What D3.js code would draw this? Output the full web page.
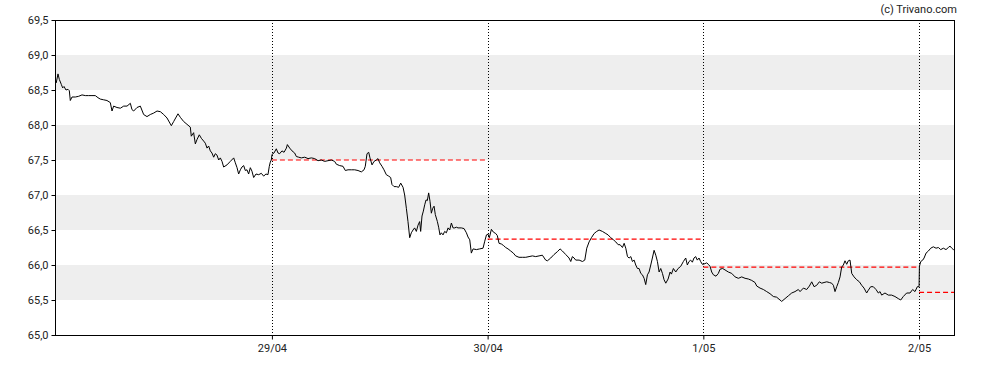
<!DOCTYPE html>
<html>
<head>
<meta charset="utf-8">
<script src="https://cdn.jsdelivr.net/npm/d3@7"></script>
<style>
  html, body { margin: 0; padding: 0; background: #fff; }
  svg { display: block; font-family: Roboto, "Liberation Sans", Arial, sans-serif; }
</style>
</head>
<body>
<svg id="chart" width="988" height="370"></svg>
<script>
// ---- data ----
const yTicks = [65.0, 65.5, 66.0, 66.5, 67.0, 67.5, 68.0, 68.5, 69.0, 69.5];
const grayBands = [[65.5, 66.0], [66.5, 67.0], [67.5, 68.0], [68.5, 69.0]];
const dayLabels = ["29/04", "30/04", "1/05", "2/05"];
const dayOffsets = [1, 2, 3, 4]; // days after 28/04

// intraday points: hours of day and prices, one pair of arrays per day
const hours28 = [0.00,0.20,0.35,0.57,0.72,0.87,1.09,1.31,1.46,1.57,1.76,2.13,2.50,2.87,3.24,3.61,3.98,4.35,4.65,4.91,5.28,5.65,6.02,6.21,6.39,6.76,7.14,7.51,7.88,8.25,8.43,8.62,8.99,9.36,9.73,10.10,10.47,10.84,11.22,11.59,11.96,12.33,12.81,13.07,13.55,13.81,14.18,14.55,14.92,15.03,15.29,15.48,15.66,15.92,16.15,16.41,16.59,16.78,16.96,17.15,17.33,17.52,17.70,17.89,18.08,18.26,18.45,18.63,19.00,19.37,19.75,19.93,20.12,20.30,20.49,20.67,20.86,21.04,21.23,21.41,21.60,21.78,21.97,22.23,22.53,22.82,23.08,23.34,23.56,23.71,23.82,23.93];
const values28 = [68.60,68.73,68.65,68.58,68.53,68.55,68.50,68.51,68.49,68.35,68.40,68.40,68.41,68.43,68.42,68.42,68.42,68.42,68.39,68.37,68.36,68.35,68.32,68.20,68.27,68.25,68.24,68.27,68.27,68.31,68.22,68.20,68.25,68.27,68.15,68.12,68.15,68.17,68.20,68.19,68.15,68.10,67.99,68.05,68.16,68.11,68.05,68.01,67.97,67.84,67.89,67.73,67.79,67.86,67.81,67.77,67.74,67.67,67.70,67.63,67.60,67.54,67.59,67.57,67.50,67.53,67.48,67.40,67.43,67.48,67.53,67.46,67.39,67.30,67.36,67.40,67.42,67.35,67.36,67.30,67.39,67.34,67.25,67.30,67.29,67.31,67.27,67.30,67.29,67.41,67.47,67.50];

const hours29 = [0.01,0.23,0.49,0.68,0.86,1.12,1.35,1.61,1.72,1.98,2.24,2.53,2.72,2.98,3.27,3.65,4.02,4.39,4.76,5.13,5.50,5.87,6.24,6.61,6.98,7.17,7.54,7.91,8.17,8.47,8.84,9.21,9.58,9.95,10.25,10.39,10.58,10.77,10.91,11.14,11.36,11.62,11.80,11.99,12.25,12.47,12.73,12.99,13.21,13.36,13.59,13.84,14.10,14.33,14.59,14.77,14.96,15.14,15.33,15.51,15.70,15.88,16.07,16.26,16.44,16.55,16.70,16.85,17.00,17.15,17.29,17.44,17.59,17.74,17.89,18.04,18.18,18.41,18.55,18.70,18.85,19.04,19.22,19.41,19.60,19.78,19.97,20.15,20.34,20.52,20.71,21.08,21.38,21.64,21.82,22.01,22.19,22.38,22.75,23.12,23.49,23.68,23.87];
const values29 = [67.58,67.60,67.66,67.60,67.59,67.63,67.61,67.67,67.72,67.67,67.63,67.60,67.55,67.54,67.53,67.54,67.52,67.53,67.52,67.49,67.50,67.48,67.49,67.50,67.48,67.44,67.42,67.41,67.35,67.36,67.36,67.36,67.35,67.33,67.36,67.41,67.59,67.61,67.53,67.43,67.48,67.50,67.52,67.46,67.41,67.36,67.29,67.27,67.25,67.15,67.12,67.12,67.11,67.17,67.11,67.00,66.81,66.62,66.39,66.46,66.50,66.53,66.48,66.57,66.62,66.48,66.70,66.77,66.86,66.93,66.92,67.03,66.91,66.74,66.81,66.84,66.72,66.62,66.54,66.43,66.46,66.43,66.48,66.46,66.53,66.50,66.60,66.53,66.53,66.54,66.53,66.53,66.52,66.46,66.40,66.36,66.17,66.23,66.22,66.23,66.24,66.34,66.43];

const hours30 = [0.04,0.19,0.42,0.64,0.90,1.08,1.27,1.53,1.75,2.01,2.27,2.57,2.86,3.12,3.49,3.87,4.24,4.61,4.98,5.35,5.72,6.09,6.46,6.65,7.02,7.39,7.76,8.06,8.32,8.69,9.06,9.25,9.43,9.62,9.80,10.18,10.55,10.81,11.03,11.29,11.55,11.85,12.14,12.40,12.77,13.15,13.40,13.70,14.00,14.26,14.52,14.74,15.00,15.19,15.37,15.56,15.74,15.93,16.11,16.30,16.48,16.67,16.85,17.04,17.22,17.41,17.59,17.78,17.96,18.15,18.33,18.52,18.71,18.89,19.08,19.26,19.45,19.63,19.82,20.08,20.30,20.45,20.67,20.93,21.19,21.48,21.78,22.04,22.22,22.41,22.59,22.78,22.96,23.15,23.33,23.52,23.70,23.89];
const values30 = [66.44,66.39,66.51,66.47,66.45,66.42,66.31,66.30,66.28,66.25,66.23,66.20,66.17,66.13,66.11,66.11,66.11,66.12,66.13,66.12,66.13,66.14,66.07,66.06,66.10,66.15,66.19,66.23,66.20,66.15,66.10,66.05,66.12,66.10,66.07,66.07,66.05,66.07,66.24,66.33,66.39,66.45,66.48,66.50,66.48,66.45,66.43,66.39,66.36,66.33,66.29,66.29,66.25,66.31,66.24,66.12,66.10,66.12,66.05,66.07,66.00,65.95,65.95,65.88,65.86,65.81,65.72,65.86,65.90,66.00,66.10,66.21,66.14,66.05,65.90,65.95,65.88,65.79,65.74,65.80,65.90,65.87,65.95,65.90,65.95,65.98,66.05,66.10,66.00,66.05,66.07,66.04,66.10,66.12,66.07,66.10,66.05,66.01];

const hours01 = [0.00,0.19,0.37,0.56,0.75,0.93,1.12,1.41,1.67,1.86,2.15,2.41,2.78,3.16,3.53,3.90,4.27,4.64,5.01,5.38,5.75,5.94,6.31,6.68,7.05,7.42,7.79,8.16,8.53,8.72,9.09,9.46,9.83,10.20,10.57,10.76,11.13,11.50,11.80,12.06,12.32,12.61,12.91,13.17,13.43,13.73,14.02,14.28,14.47,14.65,14.84,15.02,15.21,15.39,15.58,15.76,15.95,16.13,16.32,16.51,16.77,17.06,17.36,17.62,17.88,18.17,18.36,18.62,18.91,19.21,19.47,19.66,19.84,20.21,20.58,20.95,21.32,21.69,21.96,22.25,22.62,22.99,23.29,23.55,23.81];
const values01 = [66.01,66.02,66.03,66.01,65.98,65.90,65.86,65.84,65.88,65.94,65.95,65.93,65.90,65.88,65.83,65.81,65.83,65.81,65.80,65.78,65.75,65.70,65.67,65.65,65.62,65.59,65.55,65.54,65.50,65.48,65.52,65.56,65.60,65.62,65.65,65.62,65.67,65.65,65.70,65.76,65.69,65.71,65.76,65.74,65.75,65.76,65.75,65.74,65.71,65.62,65.69,65.75,65.83,65.97,66.00,66.06,66.01,66.06,66.07,65.88,65.83,65.79,65.76,65.71,65.67,65.60,65.64,65.69,65.69,65.65,65.60,65.62,65.57,65.60,65.57,65.57,65.55,65.52,65.50,65.55,65.60,65.60,65.65,65.62,65.69];

const hours02 = [0.00,0.04,0.19,0.41,0.56,0.78,1.04,1.30,1.59,1.89,2.15,2.41,2.71,3.00,3.26,3.45,3.64,3.82,4.00];
const values02 = [65.69,65.98,66.05,66.07,66.10,66.17,66.20,66.24,66.26,66.24,66.25,66.22,66.24,66.22,66.25,66.27,66.24,66.22,66.23];

// previous-close reference levels (start day offset, end day offset, value)
const refStartDays = [1, 2, 3, 4];
const refEndDays = [2, 3, 4, 4 + 4 / 24];
const refValues = [67.50, 66.37, 65.97, 65.61];

// ---- chart ----
const svg = d3.select("#chart");
const padL = 55, padR = 955, padT = 20, padB = 335;
const base = new Date(2025, 3, 28, 0, 0, 0);
const at = (dayOff, h) => new Date(base.getTime() + (dayOff * 24 + h) * 3600 * 1000);

const x = d3.scaleTime()
  .domain([new Date(base.getTime() - 8 * 60 * 1000), at(4, 4)])
  .range([padL, padR]);
const y = d3.scaleLinear().domain([65, 69.5]).range([padB, padT]);
const crisp = v => Math.round(v) + 0.5;

// gray bands
svg.append("g").selectAll("rect").data(grayBands).join("rect")
  .attr("x", padL).attr("width", padR - padL)
  .attr("y", d => y(d[1])).attr("height", d => y(d[0]) - y(d[1]))
  .attr("fill", "#eeeeee");

// vertical dotted day lines
svg.append("g").selectAll("line").data(dayOffsets).join("line")
  .attr("x1", d => crisp(x(at(d, 0))))
  .attr("x2", d => crisp(x(at(d, 0))))
  .attr("y1", padT).attr("y2", padB)
  .attr("stroke", "#000").attr("stroke-width", 1)
  .attr("stroke-dasharray", "1,2");

// reference dashed lines
svg.append("g").selectAll("line").data(refValues).join("line")
  .attr("x1", (d, i) => x(at(refStartDays[i], 0)))
  .attr("x2", (d, i) => x(at(refEndDays[i], 0)))
  .attr("y1", d => y(d)).attr("y2", d => y(d))
  .attr("stroke", "#ff0000").attr("stroke-width", 1.2)
  .attr("stroke-dasharray", "5,3");

// price series
const series = [];
[[0, hours28, values28], [1, hours29, values29], [2, hours30, values30], [3, hours01, values01], [4, hours02, values02]]
  .forEach(([d, hs, vs]) => hs.forEach((h, i) => series.push({ t: at(d, h), v: vs[i] })));

svg.append("path").datum(series)
  .attr("fill", "none").attr("stroke", "#000").attr("stroke-width", 1)
  .attr("stroke-linejoin", "round")
  .attr("d", d3.line().x(d => x(d.t)).y(d => y(d.v)));

// frame
svg.append("rect")
  .attr("x", padL + 0.5).attr("y", padT + 0.5)
  .attr("width", padR - padL - 1).attr("height", padB - padT)
  .attr("fill", "none").attr("stroke", "#000").attr("stroke-width", 1);

// y axis
const fmt = v => d3.format(".1f")(v).replace(".", ",");
const yAxis = svg.append("g").attr("transform", `translate(${padL + 0.5},0)`)
  .call(d3.axisLeft(y).tickValues(yTicks).tickFormat(fmt).tickSize(4).tickPadding(3));
yAxis.select(".domain").remove();
yAxis.selectAll("text").attr("font-size", 11).attr("fill", "#222")
  .attr("font-family", "Roboto, 'Liberation Sans', Arial, sans-serif");
yAxis.selectAll("line").attr("stroke", "#000");

// x axis
const xAxis = svg.append("g").attr("transform", `translate(0,${padB + 0.5})`)
  .call(d3.axisBottom(x).tickValues(dayOffsets.map(d => at(d, 0)))
    .tickFormat((d, i) => dayLabels[i]).tickSize(4).tickPadding(5));
xAxis.select(".domain").remove();
xAxis.selectAll("text").attr("font-size", 11).attr("fill", "#222")
  .attr("font-family", "Roboto, 'Liberation Sans', Arial, sans-serif");
xAxis.selectAll("line").attr("stroke", "#000");

// copyright
svg.append("text").attr("x", 957).attr("y", 13).attr("text-anchor", "end")
  .attr("font-size", 11).attr("fill", "#222").text("(c) Trivano.com");
</script>
</body>
</html>
